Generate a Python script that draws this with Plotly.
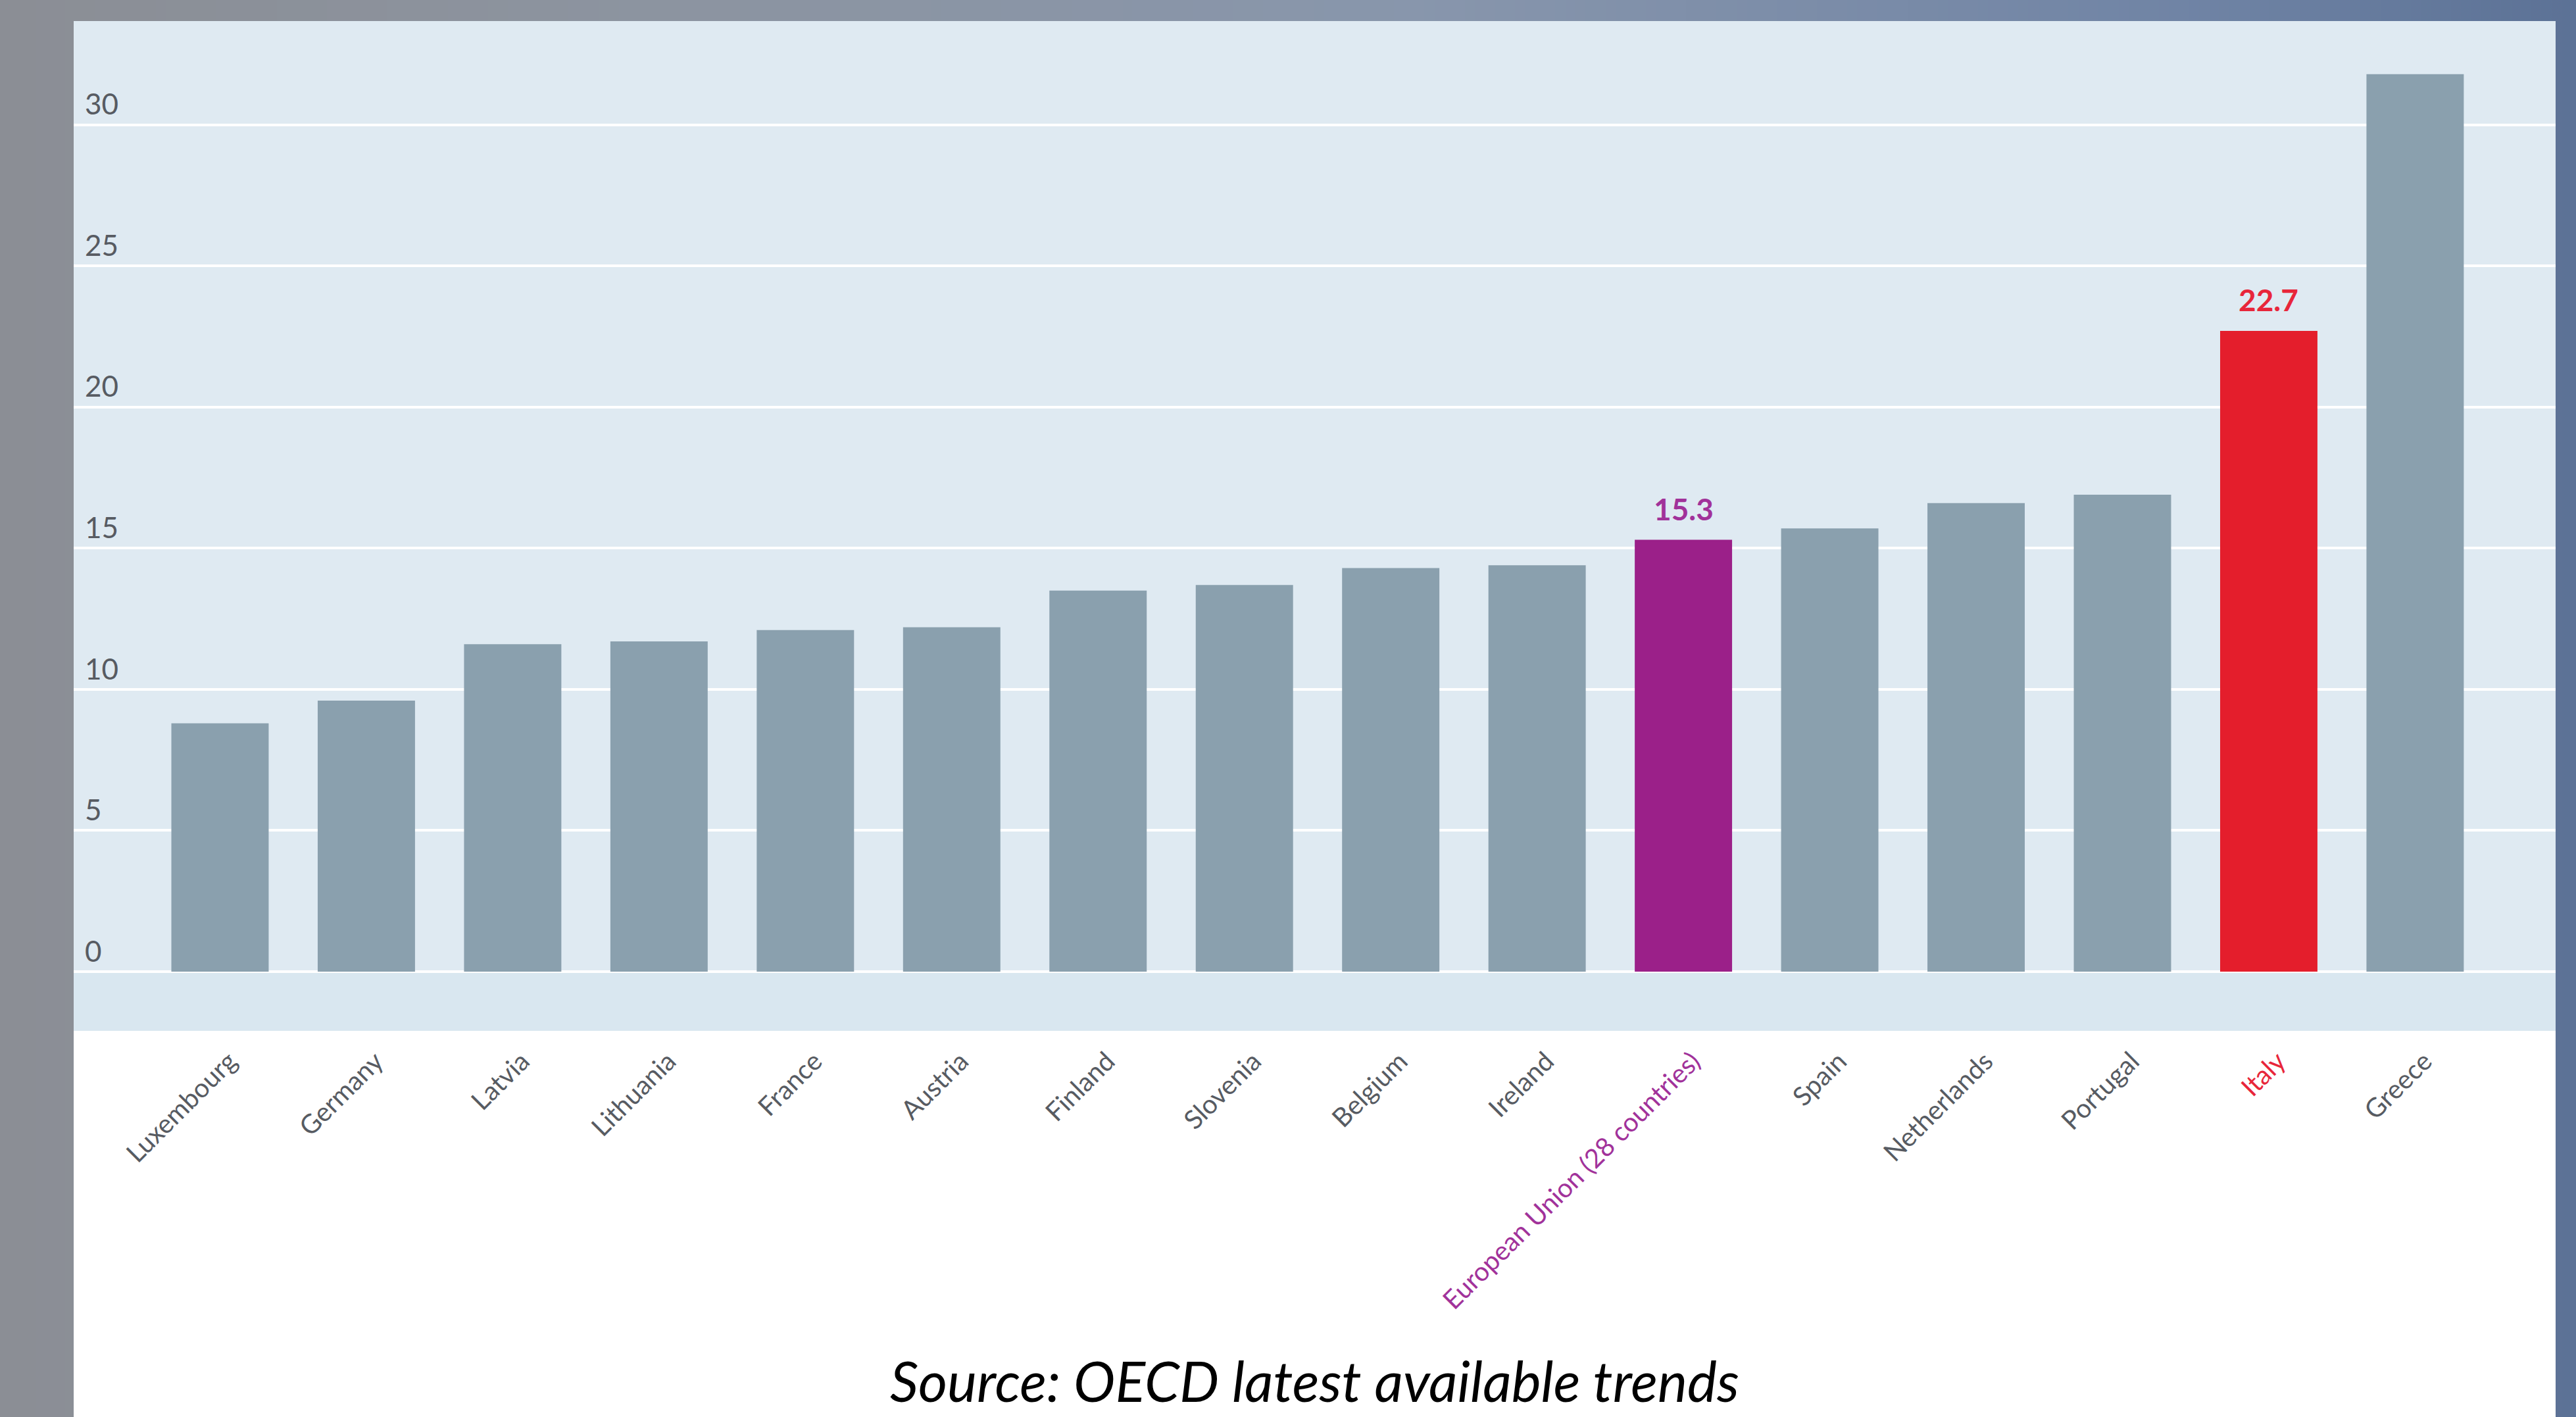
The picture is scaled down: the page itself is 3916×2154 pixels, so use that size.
import base64
import struct
import zlib

import plotly.graph_objects as go

# ---- data -------------------------------------------------------------
countries = [
    "Luxembourg", "Germany", "Latvia", "Lithuania", "France", "Austria",
    "Finland", "Slovenia", "Belgium", "Ireland",
    "European Union (28 countries)", "Spain", "Netherlands", "Portugal",
    "Italy", "Greece",
]
values = [8.8, 9.6, 11.6, 11.7, 12.1, 12.2, 13.5, 13.7, 14.3, 14.4,
          15.3, 15.7, 16.6, 16.9, 22.7, 31.8]
labelled = ["European Union (28 countries)", "Italy"]
y_ticks = [0, 5, 10, 15, 20, 25, 30]
source_note = "Source: OECD latest available trends"

# ---- styling ------------------------------------------------------------
W, H = 3916, 2154
M_L, M_R, M_T, M_B = 112, 31, 32, 587
FONT = "Lato"
BAR_GREY = "#8aa0ae"
BAR_COLORS = {"European Union (28 countries)": "#9b2089", "Italy": "#e41e2c"}
TEXT_COLORS = {"European Union (28 countries)": "#a1329a", "Italy": "#e8263a"}
TICK_GREY = "#575b62"
PLOT_BG = "#dfeaf2"
BASE_BAND = "#d9e7f0"
Y_RANGE = [-2.10, 33.68]


def gradient_png(stops, width=256):
    """Build a 1-pixel-high horizontal gradient PNG as a data URI."""
    raw = bytearray([0])
    for i in range(width):
        t = i / (width - 1)
        for (t0, c0), (t1, c1) in zip(stops[:-1], stops[1:]):
            if t0 <= t <= t1:
                f = (t - t0) / (t1 - t0) if t1 > t0 else 0
                raw.extend(int(round(a + (b - a) * f)) for a, b in zip(c0, c1))
                break

    def chunk(tag, data):
        return (struct.pack(">I", len(data)) + tag + data
                + struct.pack(">I", zlib.crc32(tag + data) & 0xFFFFFFFF))

    png = (b"\x89PNG\r\n\x1a\n"
           + chunk(b"IHDR", struct.pack(">IIBBBBB", width, 1, 8, 2, 0, 0, 0))
           + chunk(b"IDAT", zlib.compress(bytes(raw)))
           + chunk(b"IEND", b""))
    return "data:image/png;base64," + base64.b64encode(png).decode()


backdrop = gradient_png([
    (0.00, (139, 142, 149)),
    (0.25, (140, 148, 160)),
    (0.55, (136, 150, 172)),
    (0.85, (112, 132, 165)),
    (1.00, (92, 114, 150)),
])

bar_colors = [BAR_COLORS.get(c, BAR_GREY) for c in countries]
tick_text = [
    f'<span style="color:{TEXT_COLORS[c]}">{c}</span>' if c in TEXT_COLORS else c
    for c in countries
]

fig = go.Figure(
    go.Bar(
        x=countries,
        y=values,
        marker=dict(color=bar_colors, line=dict(width=0)),
        width=0.665,
        hoverinfo="x+y",
    )
)

# value labels above the highlighted bars
for c, v in zip(countries, values):
    if c in labelled:
        fig.add_annotation(
            x=c, y=v, text=f"{v:.1f}", showarrow=False,
            xanchor="center", yanchor="bottom", yshift=18,
            font=dict(family=FONT, size=46, color=TEXT_COLORS[c], weight="bold"),
        )

plot_w = W - M_L - M_R
plot_h = H - M_T - M_B

# textured slide backdrop behind the whole chart
fig.add_layout_image(
    source=backdrop, xref="paper", yref="paper",
    x=-M_L / plot_w, y=1 + M_T / plot_h,
    sizex=W / plot_w, sizey=H / plot_h,
    xanchor="left", yanchor="top", sizing="stretch", layer="below",
)

# light-blue plotting panel
fig.add_shape(
    type="rect", xref="paper", yref="paper",
    x0=0, x1=1, y0=0, y1=1,
    fillcolor=PLOT_BG, line=dict(width=0), layer="below",
)

# slightly deeper band beneath the baseline
fig.add_shape(
    type="rect", xref="paper", yref="y",
    x0=0, x1=1, y0=Y_RANGE[0], y1=0,
    fillcolor=BASE_BAND, line=dict(width=0), layer="below",
)

# white panel under the category labels
fig.add_shape(
    type="rect", xref="paper", yref="paper",
    x0=0, x1=1, y0=-(M_B + 10) / plot_h, y1=0,
    fillcolor="#ffffff", line=dict(width=0), layer="below",
)

fig.add_annotation(
    text=source_note, xref="paper", yref="paper",
    x=0.5, y=-(2098 - (H - M_B)) / plot_h,
    xanchor="center", yanchor="middle", showarrow=False,
    font=dict(family=FONT, size=85, color="#000000", style="italic"),
)

fig.update_layout(
    width=W, height=H,
    margin=dict(l=M_L, r=M_R, t=M_T, b=M_B),
    paper_bgcolor="#8d96a6",
    plot_bgcolor="rgba(0,0,0,0)",
    showlegend=False,
    font=dict(family=FONT),
)

fig.update_xaxes(
    type="category",
    range=[-1.0, 15.96],
    tickmode="array", tickvals=countries, ticktext=tick_text,
    tickangle=-45,
    ticklabelstandoff=14,
    ticklabelshift=14,
    tickfont=dict(family=FONT, size=40, color=TICK_GREY),
    showgrid=False, showline=False, zeroline=False, ticks="",
)

fig.update_yaxes(
    range=Y_RANGE,
    tickmode="array", tickvals=y_ticks,
    ticklabelposition="inside top",
    ticklabelstandoff=14,
    tickfont=dict(family=FONT, size=44, color=TICK_GREY),
    showgrid=True, gridcolor="#ffffff", gridwidth=4,
    zeroline=True, zerolinecolor="#ffffff", zerolinewidth=4,
    showline=False, ticks="",
)

fig.write_html("out.html")
